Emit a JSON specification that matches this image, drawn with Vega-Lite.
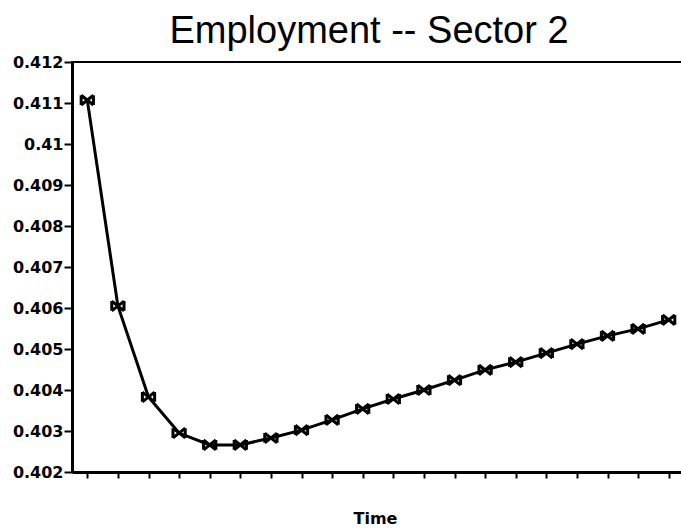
{
  "$schema": "https://vega.github.io/schema/vega-lite/v6.json",
  "autosize": "none",
  "padding": {"left": 72, "top": 62, "right": 0, "bottom": 60},
  "width": 612,
  "height": 410,
  "background": "white",
  "title": {
    "text": "Employment -- Sector 2",
    "font": "Liberation Sans",
    "fontSize": 38,
    "fontWeight": "normal",
    "color": "black",
    "anchor": "middle",
    "frame": "group",
    "baseline": "alphabetic",
    "offset": 20,
    "dx": -9,
    "dy": 47
  },
  "config": {
    "view": {"stroke": "black", "strokeWidth": 2},
    "axis": {"grid": false, "domainColor": "black", "tickColor": "black", "labelColor": "black", "titleColor": "black"}
  },
  "data": {
    "values": [
      {"t": 1, "v": 0.41107},
      {"t": 2, "v": 0.40605},
      {"t": 3, "v": 0.40383},
      {"t": 4, "v": 0.40295},
      {"t": 5, "v": 0.40266},
      {"t": 6, "v": 0.40266},
      {"t": 7, "v": 0.40283},
      {"t": 8, "v": 0.40302},
      {"t": 9, "v": 0.40327},
      {"t": 10, "v": 0.40354},
      {"t": 11, "v": 0.40378},
      {"t": 12, "v": 0.404},
      {"t": 13, "v": 0.40424},
      {"t": 14, "v": 0.40449},
      {"t": 15, "v": 0.40468},
      {"t": 16, "v": 0.4049},
      {"t": 17, "v": 0.40512},
      {"t": 18, "v": 0.40532},
      {"t": 19, "v": 0.40549},
      {"t": 20, "v": 0.40571}
    ]
  },
  "encoding": {
    "x": {
      "field": "t",
      "type": "quantitative",
      "scale": {"domain": [0.5, 20.5], "nice": false, "zero": false},
      "axis": {
        "values": [1,2,3,4,5,6,7,8,9,10,11,12,13,14,15,16,17,18,19,20],
        "labels": false,
        "tickSize": 6,
        "tickWidth": 2,
        "domainWidth": 3,
        "title": "Time",
        "titleFont": "DejaVu Sans",
        "titleFontWeight": "bold",
        "titleFontSize": 16,
        "titlePadding": 31,
        "titleX": 303
      }
    },
    "y": {
      "field": "v",
      "type": "quantitative",
      "scale": {"domain": [0.402, 0.412], "nice": false, "zero": false},
      "axis": {
        "values": [0.402, 0.403, 0.404, 0.405, 0.406, 0.407, 0.408, 0.409, 0.41, 0.411, 0.412],
        "format": ".3~f",
        "labelFont": "DejaVu Sans",
        "labelFontWeight": "bold",
        "labelFontSize": 16,
        "labelPadding": 1,
        "tickSize": 8,
        "tickWidth": 2,
        "domainWidth": 3,
        "title": null,
        "labelOverlap": false,
        "labelFlush": false
      }
    }
  },
  "layer": [
    {
      "mark": {"type": "line", "color": "black", "strokeWidth": 3, "interpolate": "linear"}
    },
    {
      "mark": {
        "type": "point",
        "shape": "M-1,-0.8L1,0.8M-1,0.8L1,-0.8M-1,-0.8L-1,0.8M1,-0.8L1,0.8",
        "filled": false,
        "stroke": "black",
        "strokeWidth": 3,
        "size": 150,
        "opacity": 1
      }
    }
  ]
}
